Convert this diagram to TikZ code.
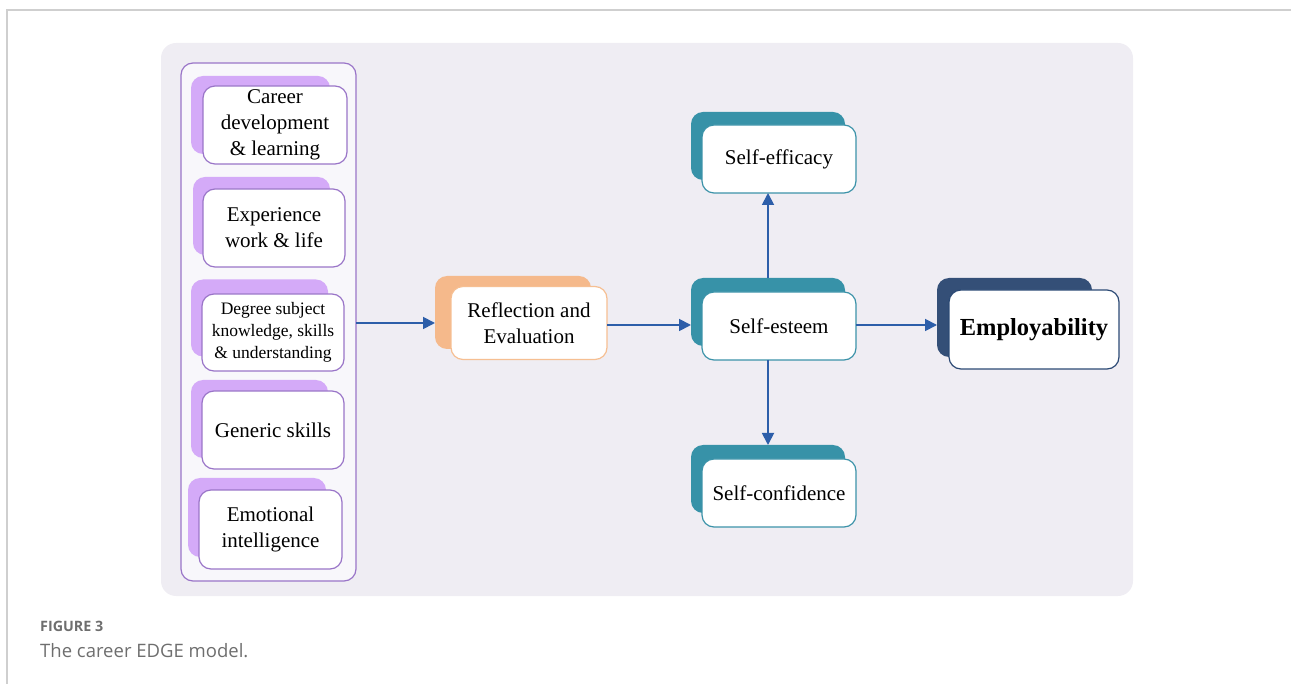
\documentclass[tikz,border=0pt]{standalone}
\usepackage{fontspec}
\setmainfont{Liberation Serif}
\newfontfamily\capfont{Open Sans}
\usetikzlibrary{arrows.meta}
\definecolor{panel}{HTML}{EFEDF3}
\definecolor{contfill}{HTML}{F8F7FB}
\definecolor{purp}{HTML}{9A75C8}
\definecolor{lav}{HTML}{D4AAF8}
\definecolor{orng}{HTML}{F5B98B}
\definecolor{orngb}{HTML}{F6BF92}
\definecolor{teal}{HTML}{3792A8}
\definecolor{tealb}{HTML}{3C93A9}
\definecolor{navy}{HTML}{344F77}
\definecolor{navyb}{HTML}{2C4A75}
\definecolor{arr}{HTML}{2D5EA9}
\definecolor{framegray}{HTML}{CFCFCF}
\definecolor{capgray}{HTML}{6E6E6E}
\tikzset{
  shade/.style={rounded corners=12pt, draw=none, inner sep=0pt},
  card/.style={rounded corners=12pt, fill=white, line width=1.2pt, inner sep=0pt, align=center, font=\fontsize{21}{26}\selectfont},
  conn/.style={arr, line width=1.8pt, -{Triangle[length=12pt,width=12pt]}},
}
\begin{document}
\begin{tikzpicture}[x=1pt,y=-1pt]
\useasboundingbox (0,0) rectangle (1291,684);
% page frame
\draw[framegray, line width=1.5pt] (7,684) -- (7,10) -- (1291,10);
% panel
\fill[panel, rounded corners=15pt] (161,43) rectangle (1133,596);
% container
\draw[purp, fill=contfill, line width=1.2pt, rounded corners=12pt] (181,63) rectangle (356,581);
\coordinate (contE) at (356,323);
% left cards
\node[shade, fill=lav, minimum width=139pt, minimum height=78pt] at (260.5,115) {};
\node[card, draw=purp, minimum width=144pt, minimum height=78pt] (c1) at (275,125) {Career\\development\\\& learning};
\node[shade, fill=lav, minimum width=137pt, minimum height=78pt] at (261.5,216) {};
\node[card, draw=purp, minimum width=142pt, minimum height=78pt] (c2) at (274,228) {Experience\\work \& life};
\node[shade, fill=lav, minimum width=137pt, minimum height=77pt] at (259.5,318) {};
\node[card, draw=purp, minimum width=142pt, minimum height=77pt, font=\fontsize{17.5}{22}\selectfont] (c3) at (273,332.5) {Degree subject\\knowledge, skills\\\& understanding};
\node[shade, fill=lav, minimum width=137pt, minimum height=78pt] at (259.5,419) {};
\node[card, draw=purp, minimum width=142pt, minimum height=78pt] (c4) at (273,430) {Generic skills};
\node[shade, fill=lav, minimum width=138pt, minimum height=79pt] at (257,517.5) {};
\node[card, draw=purp, minimum width=143pt, minimum height=79pt] (c5) at (270.5,529.5) {Emotional\\intelligence};
% reflection
\node[shade, fill=orng, minimum width=156pt, minimum height=73pt] (refS) at (513,312.5) {};
\node[card, draw=orngb, minimum width=156pt, minimum height=73pt] (ref) at (529,323) {Reflection and\\Evaluation};
% self-efficacy
\node[shade, fill=teal, minimum width=154pt, minimum height=68pt] (effS) at (768,146) {};
\node[card, draw=tealb, minimum width=154pt, minimum height=68pt] (eff) at (779,159) {Self-efficacy};
% self-esteem
\node[shade, fill=teal, minimum width=154pt, minimum height=68pt] (estS) at (768,312) {};
\node[card, draw=tealb, minimum width=154pt, minimum height=68pt] (est) at (779,326) {Self-esteem};
% self-confidence
\node[shade, fill=teal, minimum width=154pt, minimum height=68pt] (confS) at (768,479) {};
\node[card, draw=tealb, minimum width=154pt, minimum height=68pt] (conf) at (779,493) {Self-confidence};
% employability
\node[shade, fill=navy, minimum width=155pt, minimum height=79pt] (empS) at (1014.5,317.5) {};
\node[card, draw=navyb, minimum width=170pt, minimum height=79pt, font=\fontsize{24.5}{30}\selectfont\bfseries] (emp) at (1034,329.5) {Employability};
% connector anchors
\coordinate (refIn) at (435,323);
\coordinate (refOut) at (607,325);
\coordinate (estIn) at (691,325);
\coordinate (estTop) at (768,278);
\coordinate (effBot) at (768,193);
\coordinate (estBot) at (768,360);
\coordinate (confTop) at (768,445);
\coordinate (estOut) at (856,325);
\coordinate (empIn) at (937,325);
% connectors
\draw[conn] (contE) -- (refIn);
\draw[conn] (refOut) -- (estIn);
\draw[conn] (estTop) -- (effBot);
\draw[conn] (estBot) -- (confTop);
\draw[conn] (estOut) -- (empIn);
% caption
\node[anchor=west, inner sep=0pt, text=capgray, font=\capfont\bfseries\fontsize{14.3}{16}\selectfont] (figl) at (40,626) {FIGURE 3};
\node[anchor=west, inner sep=0pt, text=capgray, font=\capfont\fontsize{18.5}{22}\selectfont] (capt) at (40,651) {The career EDGE model.};
\end{tikzpicture}
\end{document}
